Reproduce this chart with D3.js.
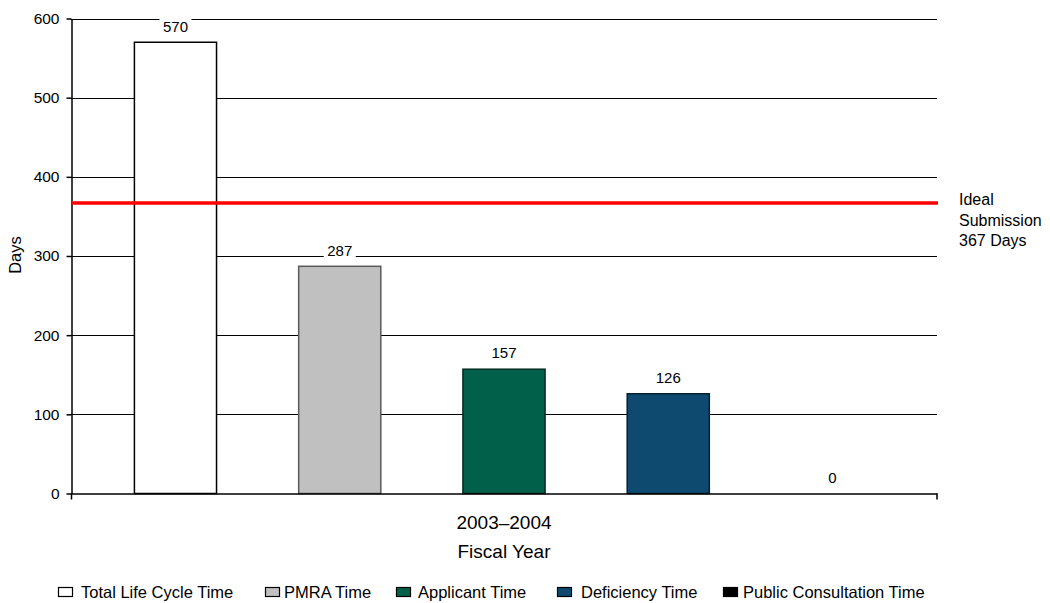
<!DOCTYPE html>
<html>
<head>
<meta charset="utf-8">
<script src="https://cdn.jsdelivr.net/npm/d3@7"></script>
<style>
  body { margin: 0; background: #fff; }
  svg { display: block; font-family: "Liberation Sans", Arial, sans-serif; }
</style>
</head>
<body>
<svg id="chart" width="1050" height="603"></svg>
<script>
// Series for fiscal year 2003–2004 (days)
const seriesNames = ["Total Life Cycle Time", "PMRA Time", "Applicant Time", "Deficiency Time", "Public Consultation Time"];
const seriesValues = [570, 287, 157, 126, 0];
const seriesFills = ["#ffffff", "#c0c0c0", "#00604a", "#0e4a6f", "#000000"];
const seriesStrokes = ["#000000", "#5a5a5a", "#002a20", "#05202f", "#000000"];
const yTicks = [0, 100, 200, 300, 400, 500, 600];
const categoryLabel = "2003–2004";
const idealDays = 367;
const idealLabel = ["Ideal", "Submission", "367 Days"];

const svg = d3.select("#chart");
const plotLeft = 71, plotRight = 937, plotTop = 18.5, plotBottom = 493.5;

const y = d3.scaleLinear().domain([0, 600]).range([plotBottom, plotTop]);
const x = d3.scaleBand().domain(seriesNames).range([plotLeft, plotRight])
  .paddingInner(0.5).paddingOuter(0.386);

// horizontal gridlines
svg.append("g").selectAll("line").data(yTicks.filter(d => d > 0)).join("line")
  .attr("x1", plotLeft).attr("x2", plotRight)
  .attr("y1", d => Math.round(y(d)) + 0.5).attr("y2", d => Math.round(y(d)) + 0.5)
  .attr("stroke", "#000").attr("stroke-width", 1);

// y axis
const yAxis = svg.append("g").attr("transform", `translate(${plotLeft + 0.5},0)`)
  .call(d3.axisLeft(y).tickValues(yTicks).tickSize(5).tickSizeOuter(0).tickPadding(7));
yAxis.select(".domain").attr("stroke", "#000").attr("stroke-width", 1.5);
yAxis.selectAll(".tick line").attr("stroke", "#000").attr("stroke-width", 1.5);
yAxis.selectAll(".tick text").attr("font-size", 15.5).attr("fill", "#000")
  .attr("font-family", "Liberation Sans, Arial, sans-serif");

// bars
svg.append("g").selectAll("rect").data(seriesValues).join("rect")
  .attr("x", (d, i) => x(seriesNames[i]))
  .attr("width", x.bandwidth())
  .attr("y", d => y(d))
  .attr("height", d => y(0) - y(d))
  .attr("fill", (d, i) => seriesFills[i])
  .attr("stroke", (d, i) => seriesStrokes[i])
  .attr("stroke-width", 1.5);

// x axis baseline with end ticks
const xAxisG = svg.append("g");
xAxisG.append("line").attr("x1", plotLeft).attr("x2", plotRight + 0.5)
  .attr("y1", plotBottom + 0.5).attr("y2", plotBottom + 0.5).attr("stroke", "#000").attr("stroke-width", 1.5);
xAxisG.selectAll("line.endtick").data([plotLeft + 0.5, plotRight]).join("line").attr("class", "endtick")
  .attr("x1", d => d).attr("x2", d => d)
  .attr("y1", plotBottom).attr("y2", plotBottom + 6).attr("stroke", "#000").attr("stroke-width", 1.5);

// value labels with white backing
const labels = svg.append("g").selectAll("g").data(seriesValues).join("g")
  .attr("transform", (d, i) => `translate(${x(seriesNames[i]) + x.bandwidth() / 2},${y(d) - 16})`);
labels.append("rect").attr("x", -16).attr("y", -9).attr("width", 32).attr("height", 18).attr("fill", "#fff");
labels.append("text").text(d => d).attr("text-anchor", "middle").attr("dy", "0.35em")
  .attr("font-size", 15).attr("fill", "#000");

// ideal submission reference line
svg.append("line").attr("x1", plotLeft + 1).attr("x2", plotRight + 1)
  .attr("y1", y(idealDays)).attr("y2", y(idealDays))
  .attr("stroke", "#ff0000").attr("stroke-width", 3.5);
svg.append("text").attr("x", 959).attr("y", 205).attr("font-size", 16).attr("fill", "#000")
  .selectAll("tspan").data(idealLabel).join("tspan")
  .attr("x", 959).attr("dy", (d, i) => i === 0 ? 0 : 20.5).text(d => d);

// axis titles
svg.append("text").attr("transform", "translate(21,255) rotate(-90)")
  .attr("text-anchor", "middle").attr("font-size", 16.5).text("Days");
svg.append("text").attr("x", 504).attr("y", 529).attr("text-anchor", "middle")
  .attr("font-size", 19).text(categoryLabel);
svg.append("text").attr("x", 504).attr("y", 558).attr("text-anchor", "middle")
  .attr("font-size", 19).text("Fiscal Year");

// legend
const legendBoxX = [58.5, 265.5, 396.5, 557.5, 723.5];
const legendTextX = [81, 284, 418, 581, 743];
const leg = svg.append("g").selectAll("g").data(seriesNames).join("g");
leg.append("rect").attr("x", (d, i) => legendBoxX[i]).attr("y", 587.5).attr("width", 14).attr("height", 9)
  .attr("fill", (d, i) => seriesFills[i]).attr("stroke", "#000").attr("stroke-width", 1.2);
leg.append("text").attr("x", (d, i) => legendTextX[i]).attr("y", 597.5)
  .attr("font-size", 16.5).text(d => d);
</script>
</body>
</html>
